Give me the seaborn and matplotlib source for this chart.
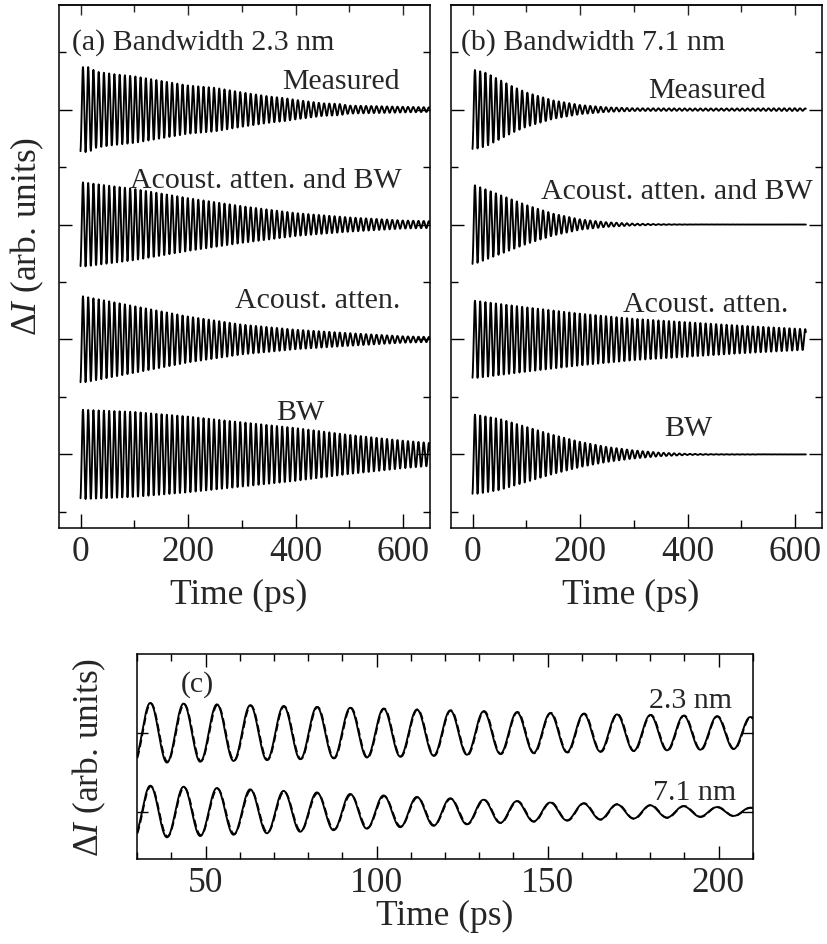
import numpy as np
import pandas as pd
import matplotlib
matplotlib.use("Agg")
import matplotlib.pyplot as plt
import seaborn as sns
from matplotlib.ticker import FixedLocator, MultipleLocator

# ---------------- data ----------------
# oscillation: period (ps) and time of one crest (ps)
period_ps = 9.75
crest_time_ps = 33.8

# panel (a), bandwidth 2.3 nm: envelope amplitude (trace-spacing units) vs time (ps)
a_meas_t = [0, 15, 30, 60, 100, 150, 200, 250, 300, 350, 380, 400, 450, 480, 500, 550, 600, 650]
a_meas_A = [0.37, 0.37, 0.33, 0.31, 0.29, 0.25, 0.21, 0.19, 0.15, 0.115, 0.10, 0.085, 0.055, 0.05, 0.035, 0.03, 0.025, 0.02]
a_aabw_t = [0, 100, 200, 300, 400, 500, 600, 650]
a_aabw_A = [0.37, 0.31, 0.23, 0.16, 0.10, 0.062, 0.035, 0.03]
a_aa_t = [0, 100, 200, 300, 400, 500, 600, 650]
a_aa_A = [0.38, 0.29, 0.20, 0.13, 0.085, 0.055, 0.028, 0.022]
a_bw_t = [0, 100, 200, 300, 400, 500, 600, 650]
a_bw_A = [0.39, 0.37, 0.33, 0.28, 0.23, 0.17, 0.12, 0.10]

# panel (b), bandwidth 7.1 nm
b_meas_t = [0, 25, 50, 75, 100, 150, 200, 250, 300, 400, 500, 600, 620]
b_meas_A = [0.35, 0.32, 0.26, 0.20, 0.15, 0.08, 0.04, 0.02, 0.012, 0.01, 0.01, 0.012, 0.01]
b_aabw_t = [0, 50, 100, 150, 200, 250, 300, 350, 400, 620]
b_aabw_A = [0.35, 0.26, 0.17, 0.095, 0.045, 0.02, 0.008, 0.003, 0.001, 0.0]
b_aa_t = [0, 100, 200, 300, 400, 500, 600, 620]
b_aa_A = [0.34, 0.28, 0.225, 0.18, 0.15, 0.12, 0.095, 0.09]
b_bw_t = [0, 50, 100, 150, 200, 250, 300, 350, 400, 450, 620]
b_bw_A = [0.35, 0.31, 0.24, 0.17, 0.11, 0.065, 0.035, 0.015, 0.005, 0.002, 0.0]

# vertical offsets of the four traces (top to bottom) and their labels
trace_offsets = [3, 2, 1, 0]
trace_labels = ["Measured", "Acoust. atten. and BW", "Acoust. atten.", "BW"]
a_title = "(a) Bandwidth 2.3 nm"
b_title = "(b) Bandwidth 7.1 nm"

# panel (c): measured (solid) and model (dashed) envelopes
c_t = [30, 36, 60, 100, 150, 200, 210]
c23_meas_A = [0.38, 0.38, 0.355, 0.31, 0.25, 0.21, 0.20]
c23_model_A = [0.38, 0.37, 0.35, 0.31, 0.255, 0.21, 0.20]
c71_meas_A = [0.33, 0.33, 0.29, 0.21, 0.117, 0.057, 0.05]
c71_model_A = [0.33, 0.32, 0.28, 0.20, 0.12, 0.06, 0.05]
c_model_phase_lag = 0.12  # rad
c_offsets = [1, 0]
c_labels = ["2.3 nm", "7.1 nm"]

# ---------------- build traces ----------------
def trace(t_env, A_env, t_end, t_start=0.0, lag=0.0):
    t = np.arange(t_start, t_end + 0.001, 0.25)
    amp = np.interp(t, t_env, A_env)
    return t, amp * np.cos(2 * np.pi * (t - crest_time_ps) / period_ps - lag)

# ---------------- style ----------------
sns.set_theme(style="ticks")
plt.rcParams["font.family"] = ["Liberation Serif", "DejaVu Serif"]
plt.rcParams["mathtext.fontset"] = "custom"
plt.rcParams["mathtext.rm"] = "Liberation Serif"
plt.rcParams["mathtext.it"] = "Liberation Serif:italic"
plt.rcParams["axes.linewidth"] = 1.1

TICK = 25.5
LAB = 25.5
ANN = 21.5
LW = 1.35

fig = plt.figure(figsize=(8.27, 9.45), dpi=100)
W, H = 827, 945
def axes_px(x0, y0, x1, y1):
    return fig.add_axes([x0 / W, 1 - y1 / H, (x1 - x0) / W, (y1 - y0) / H])

ax_a = axes_px(59, 6, 430, 529)
ax_b = axes_px(451, 6, 822, 529)
ax_c = axes_px(137.3, 655, 752.7, 860)

def style_top(ax):
    ax.set_xlim(-40, 650)
    ax.set_ylim(-0.64, 3.91)
    ax.xaxis.set_major_locator(FixedLocator([0, 200, 400, 600]))
    ax.xaxis.set_minor_locator(FixedLocator([100, 300, 500]))
    ax.yaxis.set_major_locator(FixedLocator([0, 1, 2, 3]))
    ax.yaxis.set_minor_locator(FixedLocator([-0.5, 0.5, 1.5, 2.5, 3.5]))
    ax.tick_params(axis="both", which="both", direction="in", top=False, right=True,
                   labelleft=False, width=1.0, labelsize=TICK, color="black")
    ax.tick_params(axis="x", which="major", length=10, pad=5)
    ax.tick_params(axis="x", which="minor", length=5.8)
    ax.tick_params(axis="y", which="major", length=9.4)
    ax.tick_params(axis="y", which="minor", length=5)
    sec = ax.secondary_xaxis("top")
    sec.xaxis.set_major_locator(FixedLocator([0, 200, 400, 600]))
    sec.xaxis.set_minor_locator(FixedLocator([100, 300, 500]))
    sec.tick_params(axis="x", which="major", direction="in", length=7.2, width=1.0, labeltop=False)
    sec.tick_params(axis="x", which="minor", direction="in", length=5, width=1.0, labeltop=False)
    sec.spines["top"].set_linewidth(1.1)
    for s in ax.spines.values():
        s.set_color("black")
    ax.set_xlabel("Time (ps)", fontsize=LAB)
    ax.set_ylabel("")

panels = [
    (ax_a, [(a_meas_t, a_meas_A), (a_aabw_t, a_aabw_A), (a_aa_t, a_aa_A), (a_bw_t, a_bw_A)], 650),
    (ax_b, [(b_meas_t, b_meas_A), (b_aabw_t, b_aabw_A), (b_aa_t, b_aa_A), (b_bw_t, b_bw_A)], 620),
]
for ax, envs, t_end in panels:
    for (te, Ae), off in zip(envs, trace_offsets):
        t, y = trace(te, Ae, t_end)
        df = pd.DataFrame({"t": t, "y": y + off})
        sns.lineplot(data=df, x="t", y="y", ax=ax, color="black", lw=LW,
                     estimator=None, sort=False)
    style_top(ax)

ax_a.xaxis.set_label_coords(0.485, -0.095)
ax_b.xaxis.set_label_coords(0.485, -0.095)

# annotations (a)
ax_a.text(-15.5, 3.53, a_title, fontsize=ANN, ha="left", va="baseline")
ax_a.text(594, 3.19, trace_labels[0], fontsize=ANN, ha="right", va="baseline")
ax_a.text(597, 2.33, trace_labels[1], fontsize=ANN, ha="right", va="baseline")
ax_a.text(594, 1.28, trace_labels[2], fontsize=ANN, ha="right", va="baseline")
ax_a.text(409, 0.31, trace_labels[3], fontsize=ANN, ha="center", va="baseline")
# annotations (b)
ax_b.text(-22, 3.53, b_title, fontsize=ANN, ha="left", va="baseline")
ax_b.text(546, 3.11, trace_labels[0], fontsize=ANN, ha="right", va="baseline")
ax_b.text(633, 2.23, trace_labels[1], fontsize=ANN, ha="right", va="baseline")
ax_b.text(587, 1.25, trace_labels[2], fontsize=ANN, ha="right", va="baseline")
ax_b.text(401, 0.17, trace_labels[3], fontsize=ANN, ha="center", va="baseline")

fig.text(27 / W, 1 - 236 / H, r"$\Delta I$ (arb. units)", fontsize=LAB, rotation=90,
         ha="center", va="center")

# ---------------- panel (c) ----------------
for meas_A, model_A, off in [(c23_meas_A, c23_model_A, c_offsets[0]),
                             (c71_meas_A, c71_model_A, c_offsets[1])]:
    t, y = trace(c_t, model_A, 210, t_start=30, lag=c_model_phase_lag)
    sns.lineplot(x=t, y=y + off, ax=ax_c, color="black", lw=LW, ls=(0, (4, 2)),
                 estimator=None, sort=False)
    t, y = trace(c_t, meas_A, 210, t_start=30)
    sns.lineplot(x=t, y=y + off, ax=ax_c, color="black", lw=LW,
                 estimator=None, sort=False)

ax_c.set_xlim(30, 210)
ax_c.set_ylim(-0.6, 2.0)
ax_c.xaxis.set_major_locator(FixedLocator([50, 100, 150, 200]))
ax_c.xaxis.set_minor_locator(MultipleLocator(10))
ax_c.yaxis.set_major_locator(FixedLocator([0, 1]))
ax_c.tick_params(axis="both", which="both", direction="in", top=True, right=True,
                 labelleft=False, width=1.0, labelsize=TICK, color="black")
ax_c.tick_params(axis="x", which="major", length=9.4, pad=5)
ax_c.tick_params(axis="x", which="minor", length=5)
ax_c.tick_params(axis="y", which="major", length=8)
for s in ax_c.spines.values():
    s.set_color("black")
ax_c.set_xlabel("Time (ps)", fontsize=LAB)
ax_c.set_ylabel(r"$\Delta I$ (arb. units)", fontsize=LAB)
ax_c.yaxis.set_label_coords(-0.048, 0.5)
ax_c.xaxis.labelpad = 0
ax_c.text(42.6, 1.54, "(c)", fontsize=ANN, ha="left", va="baseline")
ax_c.text(203.9, 1.33, c_labels[0], fontsize=ANN, ha="right", va="baseline")
ax_c.text(205.1, 0.16, c_labels[1], fontsize=ANN, ha="right", va="baseline")

fig.savefig("out.png", dpi=100)
